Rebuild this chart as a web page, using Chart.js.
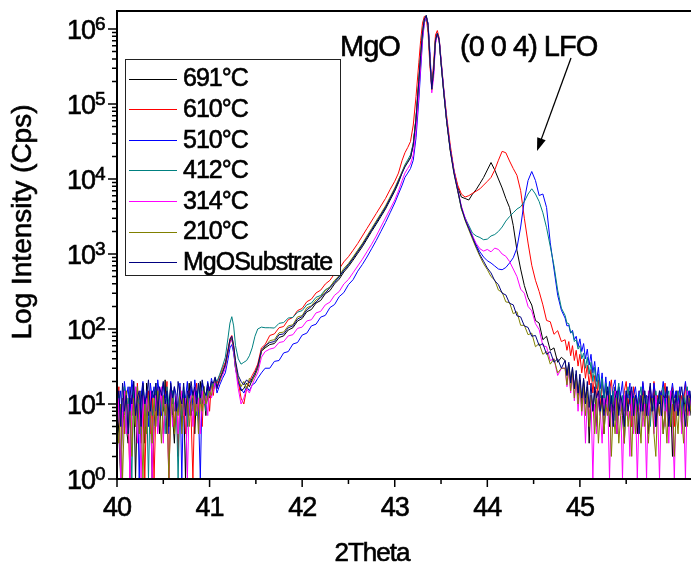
<!DOCTYPE html>
<html>
<head>
<meta charset="utf-8">
<title>XRD LFO on MgO</title>
<script src="https://cdn.jsdelivr.net/npm/chart.js"></script>
<style>
  html, body { margin: 0; padding: 0; background: #fff; }
  canvas { display: block; }
</style>
</head>
<body>
<canvas id="chart" width="691" height="565"></canvas>
<script>
// 2Theta positions shared by all scans
const twoTheta = [
  40.00,40.02,40.04,40.06,40.08,40.10,40.12,40.14,40.16,40.18,
  40.20,40.22,40.24,40.26,40.28,40.30,40.32,40.34,40.36,40.38,
  40.40,40.42,40.44,40.46,40.48,40.50,40.52,40.54,40.56,40.58,
  40.60,40.62,40.64,40.66,40.68,40.70,40.72,40.74,40.76,40.78,
  40.80,40.82,40.84,40.86,40.88,40.90,40.92,40.94,40.96,40.98,
  41.00,41.02,41.04,41.06,
  41.08,41.11,41.14,41.17,41.20,41.22,41.24,41.26,41.28,41.31,41.34,41.37,41.40,41.43,41.46,41.49,41.52,41.56,41.60,
  41.65,41.70,41.75,41.80,41.85,41.90,41.95,42.00,42.05,42.10,42.15,42.20,42.25,42.30,42.35,42.40,42.45,42.50,42.55,42.60,42.65,42.70,42.75,42.80,42.85,42.90,42.95,43.00,43.04,
  43.08,43.11,43.14,43.17,43.20,43.23,43.26,43.28,43.30,43.32,43.34,43.36,43.38,43.40,43.42,43.44,43.46,43.48,43.50,43.53,43.56,43.60,43.64,43.68,
  43.72,43.76,43.80,43.84,43.88,43.92,43.96,44.00,44.04,44.08,44.12,44.16,44.20,44.24,44.28,44.32,44.36,44.40,44.44,44.48,44.52,44.56,44.60,44.64,44.68,44.72,44.76,44.80,
  44.84,44.86,44.88,44.90,44.92,44.94,44.96,44.98,45.00,45.02,
  45.04,45.06,45.08,45.10,45.12,45.14,45.16,45.18,45.20,45.22,
  45.24,45.26,45.28,45.30,45.32,45.34,45.36,45.38,45.40,45.42,
  45.44,45.46,45.48,45.50,45.52,45.54,45.56,45.58,45.60,45.62,
  45.64,45.66,45.68,45.70,45.72,45.74,45.76,45.78,45.80,45.82,
  45.84,45.86,45.88,45.90,45.92,45.94,45.96,45.98,46.00,46.02,
  46.04,46.06,46.08,46.10,46.12,46.14,46.16,46.18,46.20
];

// intensities (cps)
const s691 = [
  13,4,1,8,17,5,3,12,7,20, 1,10,4,15,8,3,19,7,12,1, 5,15,10,4,13,8,21,4,10,17, 7,3,12,8,15,5,13,1,10,19, 7,12,4,15,8,20,10,13,7,17, 12,19,15,21,
  17,21,27,33,50,68,74,55,30,20,15,16,19,17,21,24,30,50,56,
  62,64,77,81,97,104,128,138,170,182,222,240,295,325,400,462,575,680,830,1020,1250,1580,2000,2500,3150,3980,5250,6900,8900,
  12200,14800,17000,19500,29000,65000,205000,450000,890000,1350000,1520000,1150000,400000,160000,290000,720000,880000,720000,360000,145000,62000,25000,12800,7800,
  5750,5500,5250,6300,7250,8700,10500,13200,16600,13200,10000,7600,5500,4170,2400,1120,630,380,263,209,130,120,72,80,52,56,36,42,
  38,24,34,20,30,16,25,13,21,10, 21,12,17,3,13,8,15,5,12,7, 13,4,10,15,5,12,8,17,4,10, 13,7,3,12,8,15,5,10,13,4, 12,8,15,7,10,4,13,8,17,5, 12,10,15,4,8,13,7,12,2,10, 15,7,12,5,13,8,10,15,7
];
const s610 = [
  8,17,1,12,4,15,7,1,13,10, 5,19,8,3,13,1,10,15,4,12, 1,8,17,7,13,4,10,20,1,8, 15,5,12,2,17,8,13,4,10,15, 7,1,12,19,8,13,5,17,10,15, 8,20,13,22,
  19,24,30,36,55,74,82,60,36,20,12,10,16,20,24,28,34,56,62,
  82,86,104,108,133,143,176,188,231,250,303,330,398,446,545,632,785,920,1122,1380,1738,2188,2754,3467,4365,5495,7244,9333,12000,
  17800,22400,26300,31600,52500,126000,355000,708000,1200000,1480000,1410000,890000,316000,178000,355000,832000,955000,759000,398000,158000,70800,28200,13200,8300,
  6300,5750,6000,6450,6900,7400,8300,9300,10500,13200,17800,23400,22400,17400,13800,11200,7000,3000,1400,708,447,316,210,130,125,85,95,68,
  72,52,68,44,60,38,52,32,46,26, 40,22,33,18,29,14,24,12,21,9, 20,12,17,8,15,21,10,13,7,17, 12,8,15,20,10,13,5,17,12,8, 15,10,19,7,13,12,17,8,20,10, 13,7,15,12,19,8,13,10,17,5, 12,15,8,13,10,19,7,13,12
];
const s510 = [
  19,10,15,5,20,12,17,7,21,13, 8,17,1,13,20,10,15,5,19,12, 17,8,21,13,7,19,12,15,4,20, 10,17,13,8,19,1,15,12,20,7, 17,10,21,13,8,1,19,15,12,20, 13,22,17,20,
  14,18,22,26,40,56,62,48,30,20,16,14,17,15,18,19,22,26,30,
  30,37,38,48,50,63,66,83,88,110,116,144,152,193,212,270,306,390,455,590,724,912,1175,1514,1995,2630,3548,4786,6310,
  8300,10500,12000,13800,17800,35500,112000,282000,708000,1200000,1450000,1200000,500000,166000,251000,661000,851000,741000,380000,151000,63100,25100,12600,7080,
  4170,3020,2290,1740,1320,1070,912,813,759,692,631,617,661,759,891,1202,2290,5250,9550,12600,9550,6030,6310,4170,1410,631,282,178,
  140,110,112,88,96,72,80,58,74,50, 64,40,54,33,46,26,37,20,31,16, 26,12,23,11,20,9,17,21,8,17, 13,20,8,15,12,19,7,13,17,10, 15,8,20,12,13,7,17,10,19,12, 8,15,13,20,10,17,7,13,19,12, 15,10,17,8,13,20,12,15,10
];
const s412 = [
  7,13,1,10,17,4,12,8,1,15, 5,13,10,4,17,8,12,1,15,7, 10,19,5,13,8,12,4,17,10,7, 15,8,12,1,13,7,17,10,5,13, 12,8,15,7,19,10,13,17,8,15, 13,19,17,22,
  20,25,32,42,78,120,146,110,60,40,34,36,38,44,56,80,100,106,104,
  104,103,119,122,140,143,168,176,210,222,265,280,334,362,438,490,615,710,891,1096,1349,1660,2089,2630,3311,4169,5495,7244,9550,
  12600,15500,18000,21000,30000,64000,200000,450000,890000,1350000,1500000,1120000,400000,160000,285000,710000,870000,710000,356000,142000,61000,24500,12300,7300,
  3980,3020,2400,1900,1740,1660,1550,1580,1740,1820,2000,2290,2750,3160,3550,3980,4270,5010,6310,7410,6310,5010,3550,2240,1260,700,330,190,
  152,120,118,90,92,68,72,54,60,40, 48,30,42,25,36,20,31,16,25,12, 22,10,19,9,17,8,15,6,13,19, 8,13,5,12,17,10,15,7,13,8, 12,17,7,15,10,13,5,12,8,15, 10,13,7,17,8,12,15,5,13,10, 8,15,12,7,13,10,17,8,12
];
const s314 = [
  4,12,1,8,15,4,10,1,13,7, 17,3,10,1,13,5,12,8,15,1, 7,13,4,10,17,3,12,8,1,15, 5,10,13,4,8,15,7,12,1,10, 13,5,17,8,12,4,15,10,13,7, 17,12,15,20,
  16,20,24,30,48,66,72,52,30,16,10,12,16,14,18,22,26,42,50,
  54,56,66,68,81,84,102,106,128,133,164,172,210,228,282,316,398,458,562,692,851,1072,1349,1738,2291,3020,3981,5248,6918,
  9550,12000,13800,15800,20900,44700,141000,331000,759000,1260000,1480000,1150000,417000,141000,224000,631000,832000,724000,372000,148000,63100,25100,12600,7240,
  4365,3020,2240,1740,1380,1175,1096,1150,1070,1200,1150,1000,933,794,631,500,340,300,200,175,118,98,60,58,38,40,24,30,
  30,17,28,14,24,11,21,8,18,7, 15,3,12,7,13,1,10,4,15,8, 3,12,7,13,1,10,5,15,4,8, 12,1,13,7,10,2,15,4,12,1, 8,13,5,10,1,15,7,12,4,13, 8,1,10,13,5,12,3,15,7,1, 12,8,13,4,10,1,15,7,12
];
const s210 = [
  5,3,10,1,7,15,4,8,2,12, 5,17,4,8,1,10,4,13,7,3, 12,5,15,8,3,13,7,10,1,8, 13,4,10,7,15,4,12,8,13,5, 10,15,7,12,4,13,8,17,10,12, 15,13,19,20,
  18,20,28,32,50,70,76,56,34,22,17,20,16,22,20,25,30,50,58,
  70,72,89,91,110,114,145,151,192,204,245,268,325,362,445,515,640,748,914,1125,1380,1740,2190,2760,3470,4370,5760,7600,9780,
  12500,15000,17000,19500,29000,66000,210000,460000,900000,1360000,1500000,1100000,390000,155000,280000,700000,860000,700000,350000,138000,59000,23500,11700,6900,
  4000,2800,2100,1580,1200,930,740,620,500,450,330,310,230,225,160,170,112,112,84,88,58,64,46,50,34,40,26,30,
  30,18,32,15,27,12,24,10,20,8, 17,7,15,5,13,10,4,12,3,8, 12,4,10,7,13,2,8,4,12,3, 7,10,3,13,5,8,2,12,4,10, 7,3,13,5,10,3,8,12,4,2, 10,7,13,4,8,3,12,5,10,2, 8,4,13,7,3,10,5,12,8
];
const sSubstrate = [
  10,15,5,19,8,13,4,17,10,20, 7,12,15,5,19,10,13,21,8,15, 12,19,7,17,13,20,10,15,5,19, 12,17,8,20,13,10,19,7,15,12, 20,13,17,10,19,12,21,15,13,19, 15,20,19,23,
  16,22,26,34,52,72,80,60,38,24,20,18,21,19,22,26,32,52,60,
  66,68,84,86,104,110,136,146,180,200,229,263,302,355,417,501,603,724,871,1072,1318,1660,2089,2630,3311,4169,5495,7244,9333,
  12000,14500,16600,19000,28200,63100,200000,447000,891000,1350000,1510000,1120000,398000,158000,282000,708000,871000,708000,355000,141000,60300,24000,12000,7080,
  4170,2880,2190,1660,1260,977,800,650,560,440,390,300,285,220,210,150,145,110,105,80,82,60,64,46,50,36,40,30,
  38,24,36,19,31,16,28,14,25,12, 22,10,20,9,19,8,17,12,15,8, 13,7,12,17,8,13,5,12,15,7, 13,10,5,15,8,12,17,7,13,10, 4,13,8,15,7,12,19,8,13,5, 10,15,7,13,12,17,5,10,15,8, 13,7,12,17,10,5,13,8,15
];

const labels = ['691\u00B0C', '610\u00B0C', '510\u00B0C', '412\u00B0C', '314\u00B0C', '210\u00B0C', 'MgOSubstrate'];
const colors = ['#000000', '#FF0000', '#0000FF', '#008080', '#FF00FF', '#808000', '#000080'];
const series = [s691, s610, s510, s412, s314, s210, sSubstrate];

const xTicks = [40, 41, 42, 43, 44, 45];
const xMinorTicks = [40.5, 41.5, 42.5, 43.5, 44.5, 45.5];
const yExponents = [0, 1, 2, 3, 4, 5, 6];

const FONT = '"Liberation Sans", Arial, sans-serif';

// slightly heavier text, like the Origin export
function txt(ctx, s, x, y, size, spacing) {
  ctx.font = size + 'px ' + FONT;
  ctx.letterSpacing = (spacing || 0) + 'px';
  ctx.fillText(s, x, y);
  ctx.lineWidth = 0.6;
  ctx.strokeText(s, x, y);
}

// axes, ticks, titles, legend and labels drawn Origin-style
const originFrame = {
  id: 'originFrame',
  afterDatasetsDraw(chart) {
    const { ctx, chartArea: a, scales: { x, y } } = chart;
    ctx.save();
    ctx.strokeStyle = '#000';
    ctx.fillStyle = '#000';

    // frame
    ctx.lineWidth = 2;
    ctx.beginPath();
    ctx.moveTo(a.right, a.top); ctx.lineTo(a.left, a.top);
    ctx.lineTo(a.left, a.bottom); ctx.lineTo(a.right, a.bottom);
    ctx.stroke();

    // ticks
    ctx.lineWidth = 1.5;
    ctx.beginPath();
    xTicks.forEach(v => { const px = x.getPixelForValue(v); ctx.moveTo(px, a.bottom); ctx.lineTo(px, a.bottom + 8); });
    xMinorTicks.forEach(v => { const px = x.getPixelForValue(v); ctx.moveTo(px, a.bottom); ctx.lineTo(px, a.bottom + 5); });
    yExponents.forEach(e => {
      const py = y.getPixelForValue(Math.pow(10, e));
      ctx.moveTo(a.left - 9, py); ctx.lineTo(a.left, py);
      if (e < 6) {
        for (let m = 2; m <= 9; m++) {
          const pm = y.getPixelForValue(m * Math.pow(10, e));
          ctx.moveTo(a.left - 5, pm); ctx.lineTo(a.left, pm);
        }
      }
    });
    ctx.stroke();

    ctx.textAlign = 'center';
    ctx.textBaseline = 'alphabetic';
    xTicks.forEach(v => txt(ctx, String(v), x.getPixelForValue(v), 516, 27, -1));

    yExponents.forEach(e => {
      const py = y.getPixelForValue(Math.pow(10, e));
      ctx.textAlign = 'right';
      txt(ctx, '10', 95, py + 10, 27, -1);
      ctx.textAlign = 'left';
      txt(ctx, String(e), 95, py + 1, 19, 0);
    });

    // axis titles
    ctx.textAlign = 'center';
    txt(ctx, '2Theta', 372, 561, 26, -1);
    ctx.save();
    ctx.translate(31, 222);
    ctx.rotate(-Math.PI / 2);
    txt(ctx, 'Log Intensity (Cps)', 0, 0, 28, 0);
    ctx.restore();

    // annotations
    ctx.textAlign = 'left';
    txt(ctx, 'MgO', 340, 56, 29, -1);
    txt(ctx, '(0 0 4) LFO', 460, 56, 29, -1);

    // arrow to the LFO peak
    const x0 = 571, y0 = 58, x1 = 537, y1 = 151;
    const ang = Math.atan2(y1 - y0, x1 - x0);
    ctx.lineWidth = 1.3;
    ctx.beginPath();
    ctx.moveTo(x0, y0); ctx.lineTo(x1 - 10 * Math.cos(ang), y1 - 10 * Math.sin(ang));
    ctx.stroke();
    ctx.beginPath();
    ctx.moveTo(x1, y1);
    ctx.lineTo(x1 - 13 * Math.cos(ang) + 4.5 * Math.sin(ang), y1 - 13 * Math.sin(ang) - 4.5 * Math.cos(ang));
    ctx.lineTo(x1 - 13 * Math.cos(ang) - 4.5 * Math.sin(ang), y1 - 13 * Math.sin(ang) + 4.5 * Math.cos(ang));
    ctx.closePath();
    ctx.fill();

    // legend box
    ctx.fillStyle = '#fff';
    ctx.fillRect(125.5, 59.5, 215, 216);
    ctx.lineWidth = 1;
    ctx.strokeStyle = '#222';
    ctx.strokeRect(125.5, 59.5, 215, 216);
    ctx.textAlign = 'left';
    ctx.textBaseline = 'middle';
    labels.forEach((lab, i) => {
      const ry = 78.5 + i * 30.6;
      ctx.strokeStyle = colors[i];
      ctx.lineWidth = 1.2;
      ctx.beginPath();
      ctx.moveTo(129, Math.round(ry) + 0.5); ctx.lineTo(177, Math.round(ry) + 0.5);
      ctx.stroke();
      ctx.fillStyle = '#000';
      ctx.strokeStyle = '#000';
      txt(ctx, lab, 183, ry + 1, 25, -1);
    });
    ctx.letterSpacing = '0px';
    ctx.restore();
  }
};

new Chart(document.getElementById('chart').getContext('2d'), {
  type: 'line',
  data: {
    datasets: series.map((s, i) => ({
      label: labels[i],
      data: twoTheta.map((t, j) => ({ x: t, y: s[j] })),
      borderColor: colors[i],
      borderWidth: 1,
      pointRadius: 0,
      tension: 0,
      order: 6 - i
    }))
  },
  options: {
    responsive: false,
    animation: false,
    events: [],
    layout: { padding: { left: 117, top: 11, right: 0, bottom: 86 } },
    plugins: { legend: { display: false }, tooltip: { enabled: false } },
    scales: {
      x: { type: 'linear', min: 40, max: 46.2, display: false },
      y: { type: 'logarithmic', min: 1, max: 1.74e6, display: false }
    }
  },
  plugins: [originFrame]
});
</script>
</body>
</html>
